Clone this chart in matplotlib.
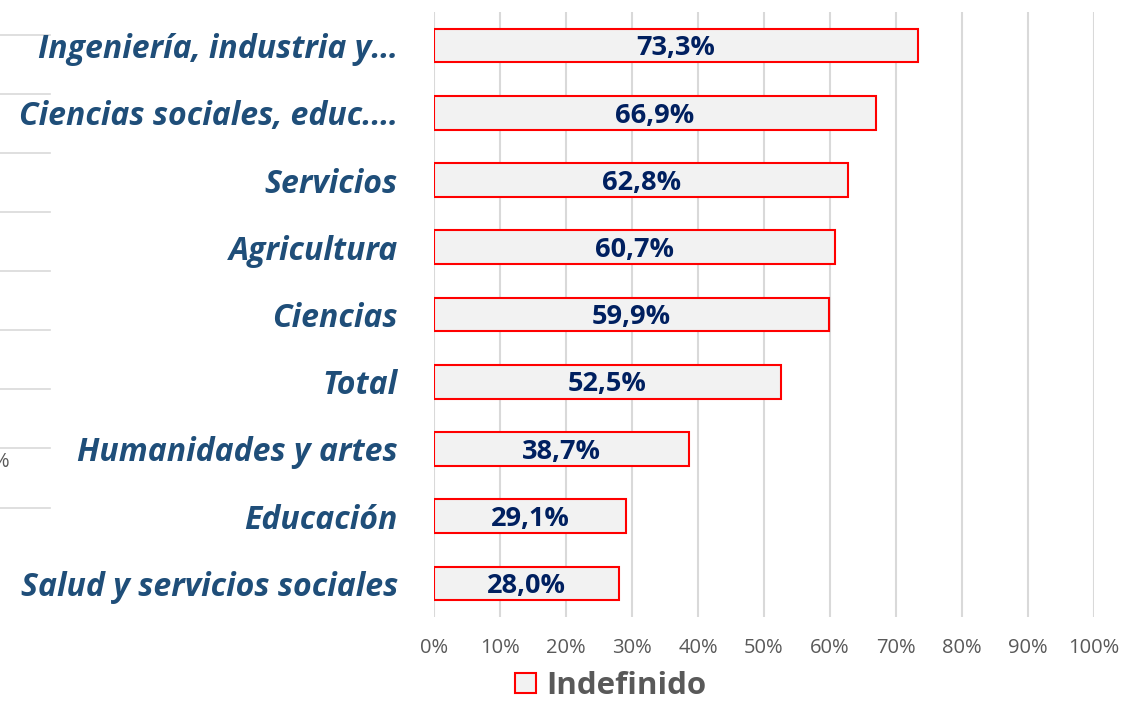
import matplotlib.pyplot as plt
from matplotlib.patches import Patch
from matplotlib.lines import Line2D
import numpy as np

categories = ['Ingeniería, industria y…', 'Ciencias sociales, educ.…', 'Servicios',
              'Agricultura', 'Ciencias', 'Total', 'Humanidades y artes',
              'Educación', 'Salud y servicios sociales']
values = [73.3, 66.9, 62.8, 60.7, 59.9, 52.5, 38.7, 29.1, 28.0]
value_labels = ['73,3%', '66,9%', '62,8%', '60,7%', '59,9%', '52,5%', '38,7%', '29,1%', '28,0%']
xticks = [0, 10, 20, 30, 40, 50, 60, 70, 80, 90, 100]
series_name = 'Indefinido'

plt.rcParams['font.family'] = ['Open Sans', 'DejaVu Sans']

fig = plt.figure(figsize=(11.25, 7.26), dpi=100)
ax = fig.add_axes([434 / 1125, 1 - 617 / 726, 660 / 1125, 605 / 726])

y = np.arange(len(categories))
ax.barh(y, values, height=0.5, color='#F2F2F2', edgecolor='#FF0000', linewidth=1.5, zorder=3)

for yi, v, lab in zip(y, values, value_labels):
    ax.text(v / 2, yi + 0.04, lab, ha='center', va='center', fontsize=19.5, fontweight='bold',
            color='#002060', zorder=4)

ax.set_xlim(0, 100)
ax.set_ylim(len(categories) - 0.5, -0.5)
ax.set_xticks(xticks)
ax.set_xticklabels([f'{t}%' for t in xticks], fontsize=14.5, color='#595959')
ax.set_yticks(y)
ax.set_yticklabels(categories, fontsize=23, fontweight='bold', fontstyle='italic', color='#1F4E79')
ax.tick_params(axis='x', length=0, pad=15)
ax.tick_params(axis='y', length=0, pad=26)
ax.grid(axis='x', color='#D9D9D9', linewidth=1.5, zorder=0)
for s in ax.spines.values():
    s.set_visible(False)

leg = fig.legend(handles=[Patch(facecolor='#F2F2F2', edgecolor='#FF0000', linewidth=1.5, label=series_name)],
                 loc='center', bbox_to_anchor=(611 / 1125, 1 - 686 / 726), frameon=False,
                 prop={'size': 22.5, 'weight': 'bold'}, handlelength=0.65, handleheight=0.65,
                 handletextpad=0.35)
for t in leg.get_texts():
    t.set_color('#595959')

# remnants of a neighbouring chart at the left edge
for py in [35, 94, 153, 212, 271, 330, 389, 448, 508]:
    fig.add_artist(Line2D([0, 50 / 1125], [1 - py / 726] * 2, color='#D9D9D9', linewidth=1.2, zorder=0))
fig.text(-7 / 1125, 1 - 462 / 726, '%', fontsize=14.5, color='#595959', va='center', ha='left')

fig.savefig('out.png', dpi=100)
